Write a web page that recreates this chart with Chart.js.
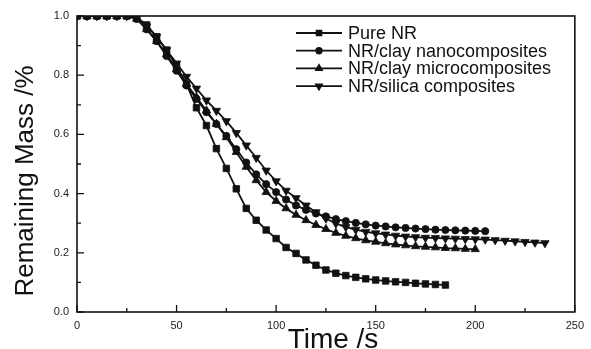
<!DOCTYPE html>
<html>
<head>
<meta charset="utf-8">
<script src="https://cdn.jsdelivr.net/npm/chart.js@4/dist/chart.umd.min.js"></script>
<style>
  html, body { margin: 0; padding: 0; background: #fff; }
</style>
</head>
<body>
<canvas id="grafico" width="591" height="349"></canvas>
<script>
// Dados (massa remanescente vs tempo)
const tempo = [0, 5, 10, 15, 20, 25, 30, 35, 40, 45, 50, 55, 60, 65, 70, 75, 80, 85, 90, 95,
  100, 105, 110, 115, 120, 125, 130, 135, 140, 145, 150, 155, 160, 165, 170, 175, 180, 185,
  190, 195, 200, 205, 210, 215, 220, 225, 230, 235];

const pureNR = [1, 1, 1, 1, 1, 1, 0.995, 0.97, 0.93, 0.885, 0.83, 0.77, 0.69, 0.63, 0.552, 0.485,
  0.416, 0.35, 0.31, 0.277, 0.248, 0.218, 0.198, 0.176, 0.158, 0.142, 0.131, 0.123, 0.117, 0.112,
  0.108, 0.105, 0.102, 0.1, 0.097, 0.095, 0.093, 0.091];

const nanoClay = [1, 1, 1, 1, 1, 1, 0.99, 0.955, 0.915, 0.865, 0.815, 0.765, 0.72, 0.675, 0.635, 0.595,
  0.55, 0.505, 0.465, 0.432, 0.405, 0.38, 0.36, 0.345, 0.333, 0.323, 0.314, 0.307, 0.301, 0.296,
  0.292, 0.289, 0.286, 0.284, 0.282, 0.28, 0.278, 0.277, 0.276, 0.275, 0.274, 0.273];

const microClay = [1, 1, 1, 1, 1, 1, 0.99, 0.955, 0.915, 0.87, 0.82, 0.77, 0.725, 0.68, 0.635, 0.59,
  0.54, 0.49, 0.445, 0.405, 0.375, 0.35, 0.328, 0.31, 0.294, 0.28, 0.267, 0.257, 0.249, 0.242,
  0.237, 0.232, 0.228, 0.225, 0.222, 0.22, 0.218, 0.216, 0.215, 0.213, 0.212];

const silica = [1, 1, 1, 1, 1, 1, 0.995, 0.965, 0.93, 0.885, 0.84, 0.795, 0.755, 0.715, 0.68, 0.645,
  0.605, 0.563, 0.521, 0.478, 0.442, 0.41, 0.385, 0.36, 0.337, 0.316, 0.299, 0.287, 0.278, 0.271,
  0.266, 0.262, 0.258, 0.255, 0.253, 0.251, 0.25, 0.249, 0.248, 0.247, 0.246, 0.245, 0.243, 0.241,
  0.239, 0.237, 0.235, 0.233];

const nomes = ["Pure NR", "NR/clay nanocomposites", "NR/clay microcomposites", "NR/silica composites"];
const xTicks = [0, 50, 100, 150, 200, 250];
const yTicks = [0.0, 0.2, 0.4, 0.6, 0.8, 1.0];

const FONTE = "'Liberation Sans', Arial, Helvetica, sans-serif";

// junta tempo + valores em pares {x, y}
function pares(vals) {
  return vals.map((v, i) => ({ x: tempo[i], y: v }));
}

function serie(label, vals, estilo, raio, rot) {
  return {
    label,
    data: pares(vals),
    borderColor: "#111",
    backgroundColor: "#111",
    borderWidth: 1.8,
    pointStyle: estilo,
    pointRadius: raio,
    pointRotation: rot || 0,
    pointBorderWidth: 0.8,
    tension: 0
  };
}

// moldura, ticks internos, títulos e legenda
const decor = {
  id: "decor",
  afterDraw(chart) {
    const { ctx, chartArea: a, scales } = chart;
    const sx = scales.x, sy = scales.y;
    ctx.save();
    ctx.strokeStyle = "#111";
    ctx.lineWidth = 1.6;
    ctx.strokeRect(a.left, a.top, a.right - a.left, a.bottom - a.top);

    ctx.lineWidth = 1.3;
    ctx.beginPath();
    for (let v = 0; v <= 250; v += 25) {
      const px = sx.getPixelForValue(v);
      const len = v % 50 === 0 ? 7 : 4;
      ctx.moveTo(px, a.bottom);
      ctx.lineTo(px, a.bottom - len);
    }
    for (let k = 0; k <= 10; k++) {
      const py = sy.getPixelForValue(k / 10);
      const len = k % 2 === 0 ? 7 : 4;
      ctx.moveTo(a.left, py);
      ctx.lineTo(a.left + len, py);
    }
    ctx.stroke();

    // títulos dos eixos
    ctx.fillStyle = "#111";
    ctx.font = "28px " + FONTE;
    ctx.textAlign = "center";
    ctx.textBaseline = "alphabetic";
    ctx.fillText("Time /s", 333, 348);

    ctx.save();
    ctx.translate(33, 181);
    ctx.rotate(-Math.PI / 2);
    ctx.font = "26px " + FONTE;
    ctx.fillText("Remaining Mass /%", 0, 0);
    ctx.restore();

    // legenda
    ctx.font = "18px " + FONTE;
    ctx.textAlign = "left";
    ctx.textBaseline = "middle";
    chart.data.datasets.forEach((ds, i) => {
      const y = 33 + i * 17.7;
      ctx.strokeStyle = "#111";
      ctx.lineWidth = 1.8;
      ctx.beginPath();
      ctx.moveTo(296, y);
      ctx.lineTo(342, y);
      ctx.stroke();
      ctx.fillStyle = "#111";
      Chart.helpers.drawPoint(ctx, {
        pointStyle: ds.pointStyle,
        rotation: ds.pointRotation,
        radius: ds.pointStyle === "circle" ? 2.8 : 3.4,
        borderWidth: 0.5
      }, 319, y);
      ctx.fillStyle = "#111";
      ctx.fillText(ds.label, 348, y + 1);
    });
    ctx.restore();
  }
};

new Chart(document.getElementById("grafico"), {
  type: "line",
  data: {
    datasets: [
      serie(nomes[0], pureNR, "rect", 4.6),
      serie(nomes[1], nanoClay, "circle", 3.6),
      serie(nomes[2], microClay, "triangle", 4.8),
      serie(nomes[3], silica, "triangle", 4.8, 180)
    ]
  },
  options: {
    responsive: false,
    animation: false,
    devicePixelRatio: 1,
    layout: { padding: { top: 16, right: 11, left: 0, bottom: 0 } },
    plugins: { legend: { display: false }, tooltip: { enabled: false } },
    scales: {
      x: {
        type: "linear",
        min: 0,
        max: 250,
        afterBuildTicks: s => { s.ticks = xTicks.map(v => ({ value: v })); },
        afterFit: s => { s.height = 37; },
        ticks: {
          color: "#222",
          padding: 7,
          maxRotation: 0,
          autoSkip: false,
          font: { family: FONTE, size: 11 },
          callback: v => String(v)
        },
        grid: { display: false, drawTicks: false, tickLength: 0 },
        border: { display: false }
      },
      y: {
        min: 0,
        max: 1,
        afterBuildTicks: s => { s.ticks = yTicks.map(v => ({ value: v })); },
        afterFit: s => { s.width = 77; },
        ticks: {
          color: "#222",
          padding: 8,
          font: { family: FONTE, size: 11 },
          callback: v => Number(v).toFixed(1)
        },
        grid: { display: false, drawTicks: false, tickLength: 0 },
        border: { display: false }
      }
    }
  },
  plugins: [decor]
});
</script>
</body>
</html>
